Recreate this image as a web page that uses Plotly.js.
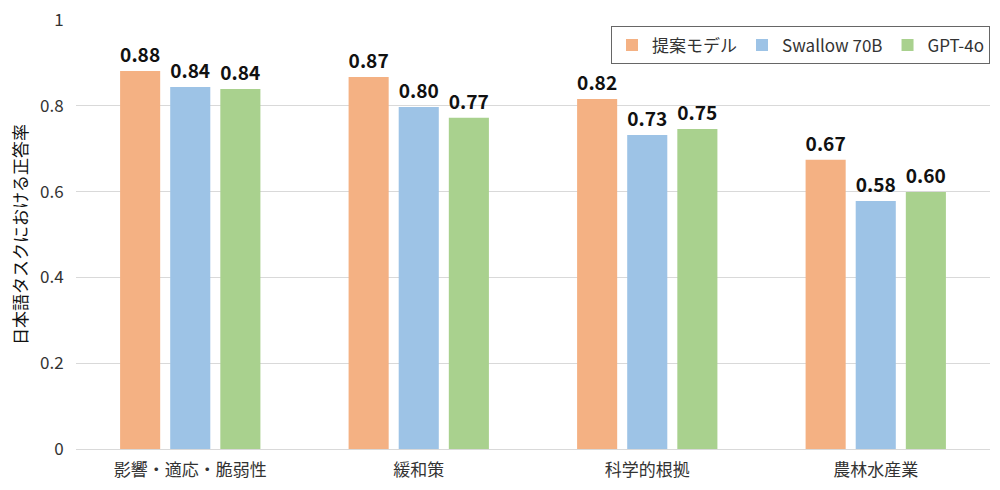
<!DOCTYPE html>
<html>
<head>
<meta charset="utf-8">
<script src="https://cdn.plot.ly/plotly-3.0.1.min.js"></script>
<style>
  html, body { margin: 0; padding: 0; background: #fff; }
  #chart { width: 1000px; height: 490px; }
</style>
</head>
<body>
<div id="chart"></div>
<script>
  // カテゴリと各モデルの正答率
  var categories = ["影響・適応・脆弱性", "緩和策", "科学的根拠", "農林水産業"];
  var proposed = [0.881, 0.867, 0.816, 0.674];
  var swallow = [0.844, 0.797, 0.732, 0.578];
  var gpt4o = [0.839, 0.772, 0.746, 0.599];
  var seriesNames = ["提案モデル", "Swallow 70B", "GPT-4o"];
  var yTicks = [0, 0.2, 0.4, 0.6, 0.8, 1];
  var yTickLabels = ["0", "0.2", "0.4", "0.6", "0.8", "1"];

  var colors = ["#F4B183", "#9DC3E6", "#A9D18E"];
  var font = "'Noto Sans CJK JP', 'Noto Sans', sans-serif";

  var data = [proposed, swallow, gpt4o].map(function (vals, i) {
    return {
      type: "bar",
      name: seriesNames[i],
      x: categories,
      y: vals,
      marker: { color: colors[i] },
      texttemplate: "<b>%{y:.2f}</b>",
      textposition: "outside",
      cliponaxis: false,
      textfont: { family: font, size: 20, color: "#111" },
      hoverinfo: "none",
    };
  });

  var layout = {
    width: 1000,
    height: 490,
    margin: { l: 76, r: 10, t: 20, b: 41 },
    barmode: "group",
    bargap: 0.342,
    bargroupgap: 0.2,
    plot_bgcolor: "#fff",
    paper_bgcolor: "#fff",
    font: { family: font, size: 16, color: "#333" },
    showlegend: true,
    legend: {
      orientation: "h",
      x: 1,
      xanchor: "right",
      y: 0.985,
      yanchor: "top",
      bordercolor: "#666",
      borderwidth: 1,
      bgcolor: "#fff",
      font: { family: font, size: 17, color: "#333" },
      itemwidth: 30,
      traceorder: "normal",
    },
    xaxis: {
      type: "category",
      tickfont: { family: font, size: 17, color: "#333" },
      showline: true,
      linecolor: "#d9d9d9",
      ticks: "",
      ticklabelstandoff: 6,
      fixedrange: true,
    },
    yaxis: {
      range: [0, 1],
      tickvals: yTicks,
      ticktext: yTickLabels,
      showgrid: true,
      gridcolor: "#d9d9d9",
      zeroline: false,
      ticks: "outside",
      ticklen: 8,
      tickcolor: "rgba(0,0,0,0)",
      tickfont: { family: font, size: 17, color: "#333" },
      title: { text: "日本語タスクにおける正答率", font: { family: font, size: 17, color: "#111" }, standoff: 8 },
      fixedrange: true,
    },
  };

  Plotly.newPlot("chart", data, layout, { displayModeBar: false, staticPlot: true });
</script>
</body>
</html>
